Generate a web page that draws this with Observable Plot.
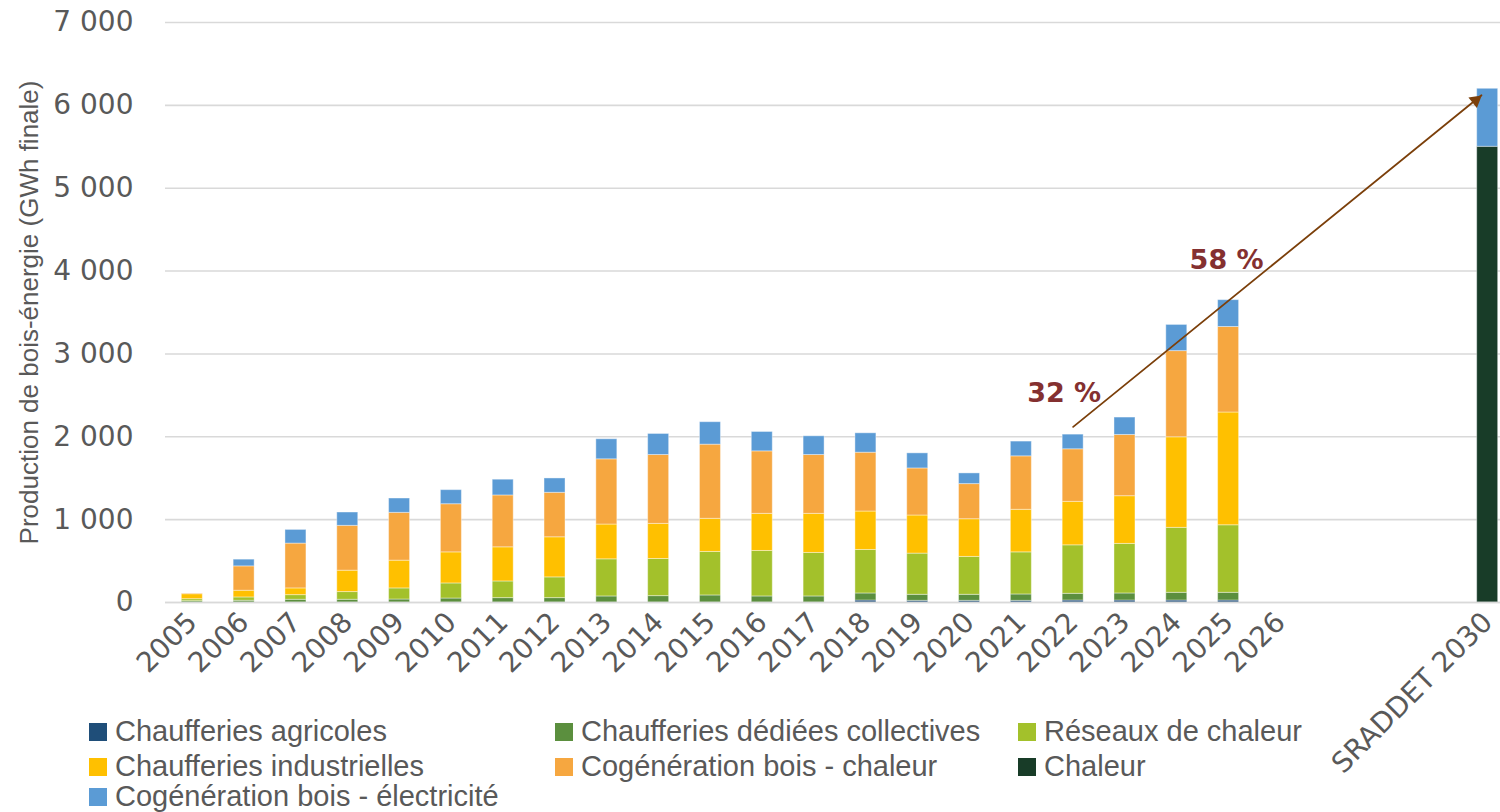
<!DOCTYPE html>
<html>
<head>
<meta charset="utf-8">
<script src="https://cdn.jsdelivr.net/npm/d3@7"></script>
<script src="https://cdn.jsdelivr.net/npm/@observablehq/plot@0.6"></script>
<style>
  html, body { margin: 0; padding: 0; background: #ffffff; }
  #wrap { position: relative; width: 1500px; height: 812px; overflow: hidden; }
  #legend { position: absolute; left: 0; top: 0; width: 1500px; height: 812px; pointer-events: none;
            font-family: "Liberation Sans", Arial, sans-serif; font-size: 29px; color: #595959; }
  .item { position: absolute; display: flex; align-items: center; height: 33px; line-height: 33px; white-space: nowrap; }
  .sw { width: 18px; height: 18px; margin-right: 8px; flex: none; }
</style>
</head>
<body>
<div id="wrap"><div id="legend"></div></div>
<script>
// ---------- data ----------
const categories = ["2005","2006","2007","2008","2009","2010","2011","2012","2013","2014","2015","2016","2017","2018","2019","2020","2021","2022","2023","2024","2025","2026","2027","2028","2029","SRADDET 2030"];
const hiddenCategories = ["2027","2028","2029"];

const seriesNames = [
  "Chaufferies agricoles",
  "Chaufferies dédiées collectives",
  "Réseaux de chaleur",
  "Chaufferies industrielles",
  "Cogénération bois - chaleur",
  "Chaleur",
  "Cogénération bois - électricité"
];
const seriesColors = ["#1f4e79", "#5b8f3e", "#a3c12b", "#ffc000", "#f6a740", "#183c28", "#5b9bd5"];

//                        2005 06   07   08   09   10   11   12   13   14   15   16   17   18   19   20   21   22   23   24    25   26 27 28 29 SRADDET
const chaufferiesAgricoles  = [0,   0,   0,   0,   0,   0,   0,   0,   0,   0,   0,   0,   0,  24,  20,  20,  20,  24,  24,  24,   24,  0, 0, 0, 0, 0];
const chaufferiesDediees    = [16, 21,  33,  33,  36,  48,  53,  53,  73,  77,  85,  73,  73,  85,  73,  73,  77,  81,  85,  93,   93,  0, 0, 0, 0, 0];
const reseauxChaleur        = [24, 40,  56,  93, 134, 182, 201, 250, 448, 448, 525, 549, 525, 525, 497, 457, 508, 585, 598, 784,  815,  0, 0, 0, 0, 0];
const chaufferiesIndus      = [60, 81,  81, 258, 335, 375, 412, 484, 420, 424, 400, 448, 472, 464, 460, 455, 514, 525, 576, 1093, 1361, 0, 0, 0, 0, 0];
const cogenChaleur          = [6, 294, 541, 541, 577, 581, 626, 537, 787, 831, 895, 754, 710, 710, 568, 424, 645, 634, 739, 1040, 1032, 0, 0, 0, 0, 0];
const chaleur               = [0,   0,   0,   0,   0,   0,   0,   0,   0,   0,   0,   0,   0,   0,   0,   0,   0,   0,   0,   0,    0,  0, 0, 0, 0, 5500];
const cogenElec             = [0,  81, 165, 161, 173, 170, 190, 173, 242, 254, 271, 234, 226, 234, 182, 129, 178, 177, 210, 316,  324,  0, 0, 0, 0, 700];

const yTicks = [0, 1000, 2000, 3000, 4000, 5000, 6000, 7000];
const yLabel = "Production de bois-énergie (GWh finale)";

// annotations
const annotationLabels = ["32 %", "58 %"];
const annotationX = ["2022", "2025"];
const annotationY = [2530, 4125];
const arrowFrom = {x: "2022", y: 2120};
const arrowTo = {x: "SRADDET 2030", y: 6182};

// ---------- build ----------
const seriesValues = [chaufferiesAgricoles, chaufferiesDediees, reseauxChaleur, chaufferiesIndus, cogenChaleur, chaleur, cogenElec];
const rows = [];
categories.forEach((c, i) => {
  seriesNames.forEach((s, k) => {
    const v = seriesValues[k][i];
    if (v > 0) rows.push({category: c, series: s, value: v});
  });
});
const labelRows = annotationLabels.map((t, i) => ({label: t, x: annotationX[i], y: annotationY[i]}));
const visibleTicks = categories.filter(c => !hiddenCategories.includes(c));
const fmt = d => d3.format(",")(d).replace(/,/g, " ");
const arrowColor = "#7b3f0a";

const chart = Plot.plot({
  width: 1500,
  height: 812,
  marginTop: 22,
  marginBottom: 210,
  marginLeft: 165,
  marginRight: 0,
  style: {fontFamily: "'DejaVu Sans', sans-serif", background: "#ffffff", color: "#595959"},
  x: {domain: categories, range: [172, 1507], paddingInner: 0.595, paddingOuter: 0.18, align: 0.5, round: false},
  y: {domain: [0, 7000]},
  color: {domain: seriesNames, range: seriesColors},
  marks: [
    Plot.gridY(yTicks, {stroke: "#d9d9d9", strokeOpacity: 1, strokeWidth: 1.6}),
    Plot.barY(rows, {x: "category", y: "value", fill: "series", stroke: "#ffffff", strokeOpacity: 0.4, strokeWidth: 1}),
    Plot.ruleY([0], {stroke: "#d9d9d9", strokeWidth: 1.6}),
    Plot.axisY({ticks: yTicks, tickSize: 0, tickPadding: 32, fontSize: 28, tickFormat: fmt, fill: "#595959", label: null}),
    Plot.text([yLabel], {frameAnchor: "left", textAnchor: "middle", rotate: -90, dx: -136, fontSize: 26, fill: "#595959", fontFamily: "'Liberation Sans', Arial, sans-serif"}),
    Plot.axisX({ticks: visibleTicks, tickSize: 0, tickRotate: -45, tickPadding: 15, dx: 0, fontSize: 28, fill: "#595959", label: null}),
    Plot.arrow([0], {x1: () => arrowFrom.x, y1: () => arrowFrom.y, x2: () => arrowTo.x, y2: () => arrowTo.y, stroke: arrowColor, strokeWidth: 1.8, headLength: 0, insetEnd: 8}),
    Plot.dot([0], {x: () => arrowTo.x, y: () => arrowTo.y, symbol: "triangle", r: 5, fill: arrowColor, stroke: "none", rotate: 51, dx: -12, dy: 10}),
    Plot.text(labelRows.slice(0, 1), {x: "x", y: "y", text: "label", fontSize: 27, fontWeight: "bold", fill: "#843030", dx: -9}),
    Plot.text(labelRows.slice(1), {x: "x", y: "y", text: "label", fontSize: 27, fontWeight: "bold", fill: "#843030", dx: -2})
  ]
});
document.getElementById("wrap").prepend(chart);

// ---------- legend ----------
const legendPos = [
  {x: 89, y: 715}, {x: 555, y: 715}, {x: 1018, y: 715},
  {x: 89, y: 750}, {x: 555, y: 750}, {x: 1018, y: 750},
  {x: 89, y: 780}
];
const legend = document.getElementById("legend");
seriesNames.forEach((s, i) => {
  const it = document.createElement("div");
  it.className = "item";
  it.style.left = legendPos[i].x + "px";
  it.style.top = legendPos[i].y + "px";
  const sw = document.createElement("span");
  sw.className = "sw";
  sw.style.background = seriesColors[i];
  const tx = document.createElement("span");
  tx.textContent = s;
  it.appendChild(sw);
  it.appendChild(tx);
  legend.appendChild(it);
});
</script>
</body>
</html>
